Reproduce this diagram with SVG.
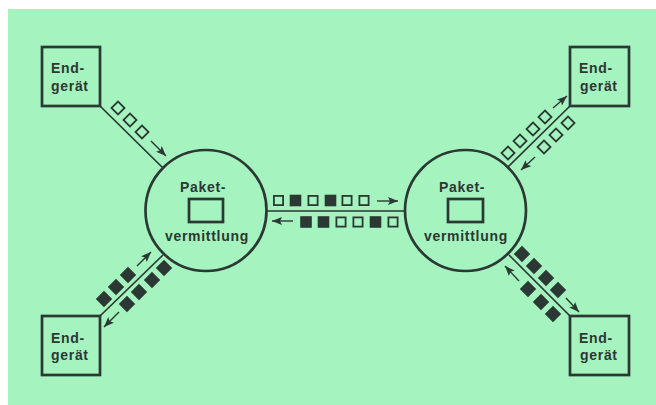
<svg xmlns="http://www.w3.org/2000/svg" width="656" height="405" viewBox="0 0 656 405">
<style>
.box{fill:none;stroke:#2b3833;stroke-width:2.7}
.ring{fill:none;stroke:#2b3833;stroke-width:2.7}
.link{fill:none;stroke:#2b3833;stroke-width:1.7}
.arr{fill:none;stroke:#2b3833;stroke-width:1.4;marker-end:url(#head)}
.e{fill:none;stroke:#2b3833;stroke-width:1.8}
.f{fill:#2b3833;stroke:#2b3833;stroke-width:2.4}
text{font-family:"Liberation Sans",Arial,sans-serif;font-weight:700;font-size:14px;fill:#2b3833;letter-spacing:.7px}
</style>
<defs>
<marker id="head" viewBox="0 0 10 8" refX="10" refY="4" markerWidth="11" markerHeight="8" markerUnits="userSpaceOnUse" orient="auto"><path d="M0 0L10 4L0 8L2 4Z" fill="#2b3833"/></marker>
<rect id="s" x="-4.6" y="-4.6" width="9.2" height="9.2"/>
</defs>
<rect width="656" height="405" fill="#fff"/>
<rect x="8" y="9" width="648" height="396" fill="#a5f3bf"/>
<g id="connectors">
<path class="link" d="M100 106L163 168M570 106L508 167M100 316L163 255M570 316L509 255M266 211H405"/>
<path class="arr" d="M151 141L166 156"/>
<path class="arr" d="M137 266L151 252"/>
<path class="arr" d="M119 312L104 327"/>
<path class="arr" d="M553 108L567 96"/>
<path class="arr" d="M535 157L521 170"/>
<path class="arr" d="M566 298L579 312"/>
<path class="arr" d="M519 281L505 266"/>
<path class="arr" d="M377 201H398"/>
<path class="arr" d="M293 221H272"/>
</g>
<g id="packets">
<g class="e"><use href="#s" transform="translate(118 108) rotate(45)"/><use href="#s" transform="translate(130 120) rotate(45)"/><use href="#s" transform="translate(142 132) rotate(45)"/></g>
<g class="f"><use href="#s" transform="translate(104 299) rotate(45)"/><use href="#s" transform="translate(116 287) rotate(45)"/><use href="#s" transform="translate(128 275) rotate(45)"/><use href="#s" transform="translate(164 268) rotate(45)"/><use href="#s" transform="translate(152 280) rotate(45)"/><use href="#s" transform="translate(139 292) rotate(45)"/><use href="#s" transform="translate(127 304) rotate(45)"/></g>
<g class="e"><use href="#s" transform="translate(508 153) rotate(45)"/><use href="#s" transform="translate(520 141) rotate(45)"/><use href="#s" transform="translate(533 129) rotate(45)"/><use href="#s" transform="translate(545 117) rotate(45)"/><use href="#s" transform="translate(544 147) rotate(45)"/><use href="#s" transform="translate(556 135) rotate(45)"/><use href="#s" transform="translate(568 123) rotate(45)"/></g>
<g class="f"><use href="#s" transform="translate(522 254) rotate(45)"/><use href="#s" transform="translate(534 266) rotate(45)"/><use href="#s" transform="translate(546 278) rotate(45)"/><use href="#s" transform="translate(558 290) rotate(45)"/><use href="#s" transform="translate(553 314) rotate(45)"/><use href="#s" transform="translate(541 302) rotate(45)"/><use href="#s" transform="translate(528 289) rotate(45)"/></g>
<g class="e"><use href="#s" x="278.5" y="200.5"/><use href="#s" x="313" y="200.5"/><use href="#s" x="347" y="200.5"/><use href="#s" x="364" y="200.5"/><use href="#s" x="341" y="222"/><use href="#s" x="358" y="222"/><use href="#s" x="393" y="222"/></g>
<g class="f"><use href="#s" x="295.5" y="200.5"/><use href="#s" x="330.5" y="200.5"/><use href="#s" x="306" y="222"/><use href="#s" x="323.5" y="222"/><use href="#s" x="375.5" y="222"/></g>
</g>
<g id="terminal-tl"><rect class="box" x="42" y="47" width="58" height="59"/><text x="51" y="73">End-</text><text x="51" y="91">gerät</text></g>
<g id="terminal-tr"><rect class="box" x="570" y="47" width="59" height="59"/><text x="579" y="73">End-</text><text x="580" y="91">gerät</text></g>
<g id="terminal-bl"><rect class="box" x="42" y="316" width="58" height="59"/><text x="51" y="343">End-</text><text x="51" y="360">gerät</text></g>
<g id="terminal-br"><rect class="box" x="570" y="316" width="59" height="59"/><text x="579" y="343">End-</text><text x="580" y="360">gerät</text></g>
<g id="switch-l"><circle class="ring" cx="206" cy="210.5" r="60.5"/><rect class="box" x="189" y="199" width="34" height="23"/><text x="180" y="192">Paket-</text><text x="165" y="241">vermittlung</text></g>
<g id="switch-r"><circle class="ring" cx="465.5" cy="210.5" r="60.5"/><rect class="box" x="448" y="199" width="35" height="23"/><text x="439" y="192">Paket-</text><text x="424" y="241">vermittlung</text></g>
</svg>
